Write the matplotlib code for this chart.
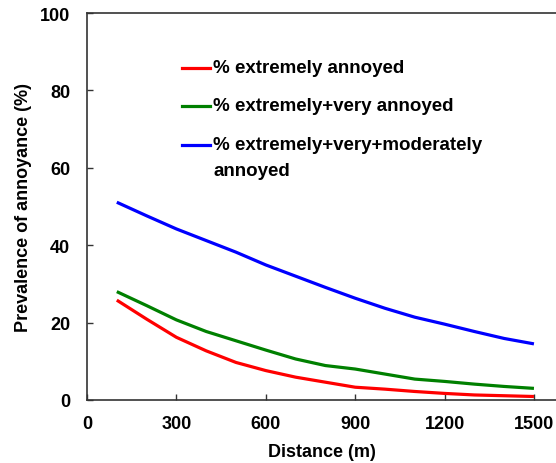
import matplotlib
matplotlib.use('Agg')
import matplotlib.pyplot as plt
from matplotlib.lines import Line2D

plt.rcParams['font.family'] = ['Liberation Sans', 'DejaVu Sans']
plt.rcParams['font.weight'] = 'bold'

distance = [100, 200, 300, 400, 500, 600, 700, 800, 900, 1000, 1100, 1200, 1300, 1400, 1500]
extremely = [25.8, 20.9, 16.2, 12.7, 9.7, 7.6, 5.9, 4.6, 3.3, 2.8, 2.2, 1.7, 1.3, 1.1, 0.9]
extremely_very = [28.0, 24.4, 20.7, 17.7, 15.3, 12.9, 10.6, 8.9, 8.0, 6.7, 5.4, 4.8, 4.1, 3.5, 3.0]
extremely_very_mod = [51.1, 47.6, 44.2, 41.2, 38.2, 34.9, 32.0, 29.1, 26.3, 23.7, 21.4, 19.6, 17.7, 15.9, 14.5]

labels = ['% extremely annoyed', '% extremely+very annoyed', '% extremely+very+moderately', 'annoyed']
colors = ['#ff0000', '#008000', '#0000ff']
xticks = [0, 300, 600, 900, 1200, 1500]
yticks = [0, 20, 40, 60, 80, 100]

fig = plt.figure(figsize=(5.56, 4.64), dpi=100)
ax = fig.add_axes([0.1565, 0.1358, 0.8435, 0.834])

series = [extremely, extremely_very, extremely_very_mod]
for vals, c in zip(series, colors):
    ax.plot(distance, vals, color=c, lw=2.3, solid_capstyle='butt')

ax.set_xlim(0, 1574)
ax.set_ylim(0, 100)
ax.set_xticks(xticks)
ax.set_yticks(yticks)
ax.tick_params(direction='in', length=4, width=1, labelsize=13, colors='#333333', labelcolor='black')
ax.tick_params(axis='x', pad=11)
ax.tick_params(axis='y', pad=12)
for s in ['left', 'bottom', 'top']:
    ax.spines[s].set_linewidth(1.2)
    ax.spines[s].set_color('#333333')
ax.spines['right'].set_visible(False)

ax.set_xlabel('Distance (m)', fontsize=13, fontweight='bold', labelpad=8)
ax.set_ylabel('Prevalence of annoyance (%)', fontsize=13, fontweight='bold', labelpad=6)

# manual legend (handle aligned with first line of text)
leg_y = [0.858, 0.760, 0.659, 0.594]
for i, (lab, y) in enumerate(zip(labels, leg_y)):
    if i < 3:
        ax.add_line(Line2D([0.2026, 0.2623], [y, y], transform=ax.transAxes, color=colors[i], lw=2.3))
    ax.text(0.2687, y, lab, transform=ax.transAxes, fontsize=13.5, fontweight='bold',
            va='center', ha='left')

fig.savefig('out.png', dpi=100)
